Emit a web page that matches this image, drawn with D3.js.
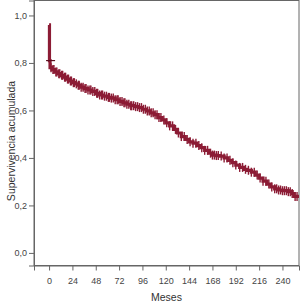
<!DOCTYPE html>
<html lang="es">
<head>
    <meta charset="UTF-8">
    <title>Supervivencia acumulada</title>
    <script src="https://d3js.org/d3.v7.min.js"></script>
    <style>
        body { margin: 0; background: #fff; }
        svg { display: block; }
        text { font-family: "Liberation Sans", Arial, sans-serif; }
    </style>
</head>
<body>
    <svg width="300" height="304"></svg>

    <script>
        // curva de Kaplan-Meier: [meses, supervivencia]
        const steps = [
            [0, 0.96], [0.4, 0.81], [1, 0.78], [3, 0.772], [6, 0.762], [9, 0.755], [12, 0.748],
            [15, 0.74], [18, 0.732], [21, 0.724], [24, 0.717], [27, 0.712], [30, 0.706],
            [33, 0.698], [36, 0.692], [40, 0.686], [44, 0.68], [48, 0.672], [52, 0.665],
            [56, 0.66], [60, 0.655], [64, 0.652], [68, 0.645], [72, 0.638], [76, 0.632],
            [80, 0.626], [84, 0.62], [88, 0.616], [92, 0.612], [96, 0.605], [100, 0.598],
            [104, 0.59], [108, 0.582], [112, 0.57], [116, 0.56], [120, 0.548], [124, 0.535],
            [128, 0.52], [132, 0.505], [136, 0.49], [140, 0.478], [144, 0.468], [148, 0.462],
            [152, 0.452], [156, 0.443], [160, 0.432], [164, 0.42], [168, 0.412], [172, 0.41],
            [176, 0.408], [180, 0.4], [184, 0.39], [188, 0.38], [192, 0.37], [196, 0.36],
            [200, 0.352], [204, 0.348], [208, 0.34], [212, 0.328], [216, 0.315], [220, 0.302],
            [224, 0.29], [228, 0.278], [232, 0.27], [236, 0.265], [240, 0.262], [246, 0.258],
            [250, 0.25], [252, 0.238]
        ];
        const endTime = 257;

        // tiempos censurados (meses)
        const censored = [
            2, 4, 5, 7, 8, 10, 11, 13, 14, 16, 17, 19, 20, 22, 23, 25, 26, 28, 30, 31, 33, 35,
            37, 38, 40, 42, 43, 45, 47, 49, 50, 52, 54, 55, 57, 59, 61, 62, 64, 66, 68, 70, 71,
            73, 75, 77, 78, 80, 82, 84, 85, 87, 89, 91, 93, 95, 97, 99, 101, 103, 105, 107, 109,
            111, 113, 115, 118, 121, 124, 127, 130, 133, 136, 139, 142, 145, 148, 151, 154, 157,
            160, 163, 166, 168, 170, 172, 174, 177, 180, 183, 186, 189, 192, 196, 199, 202, 205,
            208, 211, 214, 217, 220, 223, 226, 229, 232, 234, 236, 238, 240, 242, 244, 246, 248,
            250, 253, 255
        ];
        const startMark = [0, 0.81];

        const xTicks = [0, 24, 48, 72, 96, 120, 144, 168, 192, 216, 240];
        const yTicks = [0, 0.2, 0.4, 0.6, 0.8, 1.0];

        const svg = d3.select("svg");
        const mLeft = 34, mRight = 299, mTop = 0.5, mBottom = 265.5;
        const color = "#8c1c35";

        const x = d3.scaleLinear().domain([-15.5, 257]).range([mLeft, mRight]);
        const y = d3.scaleLinear().domain([-0.053, 1.063]).range([mBottom, mTop]);

        // marco
        svg.append("rect")
            .attr("x", mLeft).attr("y", mTop)
            .attr("width", mRight - mLeft).attr("height", mBottom - mTop)
            .attr("fill", "none").attr("stroke", "#666").attr("stroke-width", 1);

        const yAxis = svg.append("g")
            .attr("transform", `translate(${mLeft},0)`)
            .call(d3.axisLeft(y).tickValues(yTicks).tickSize(5).tickPadding(2)
                .tickFormat(d => d3.format(".1f")(d).replace(".", ",")));
        const xAxis = svg.append("g")
            .attr("transform", `translate(0,${mBottom})`)
            .call(d3.axisBottom(x).tickValues(xTicks).tickSize(5).tickPadding(7));

        [yAxis, xAxis].forEach(g => {
            g.select(".domain").attr("stroke", "#666");
            g.selectAll(".tick line").attr("stroke", "#666");
            g.selectAll("text").attr("fill", "#444").style("font-size", "9px")
                .style("font-family", "'Liberation Sans', Arial, sans-serif");
        });

        // curva escalonada
        const pts = steps.concat([[endTime, steps[steps.length - 1][1]]]);
        const line = d3.line()
            .x(d => x(d[0]))
            .y(d => y(d[1]))
            .curve(d3.curveStepAfter);

        svg.append("path")
            .datum(pts)
            .attr("fill", "none")
            .attr("stroke", color)
            .attr("stroke-width", 3.2)
            .attr("d", line);

        function survAt(t) {
            let s = steps[0][1];
            for (const st of steps) { if (st[0] <= t) s = st[1]; }
            return s;
        }

        svg.append("g").selectAll("line")
            .data(censored)
            .join("line")
            .attr("x1", d => x(d)).attr("x2", d => x(d))
            .attr("y1", d => y(survAt(d)) - 4.5)
            .attr("y2", d => y(survAt(d)) + 4.5)
            .attr("stroke", color)
            .attr("stroke-width", 1.4);

        svg.append("line")
            .attr("x1", x(startMark[0]) - 3).attr("x2", x(startMark[0]) + 6)
            .attr("y1", y(startMark[1])).attr("y2", y(startMark[1]))
            .attr("stroke", "#5a1020").attr("stroke-width", 1.2);

        // títulos
        svg.append("text")
            .attr("x", (mLeft + mRight) / 2).attr("y", 301)
            .attr("text-anchor", "middle")
            .attr("fill", "#333").style("font-size", "10.5px")
            .text("Meses");

        svg.append("text")
            .attr("transform", `translate(15,${(mTop + mBottom) / 2 + 8}) rotate(-90)`)
            .attr("text-anchor", "middle")
            .attr("fill", "#333").style("font-size", "10.5px")
            .text("Supervivencia acumulada");
    </script>
</body>
</html>
